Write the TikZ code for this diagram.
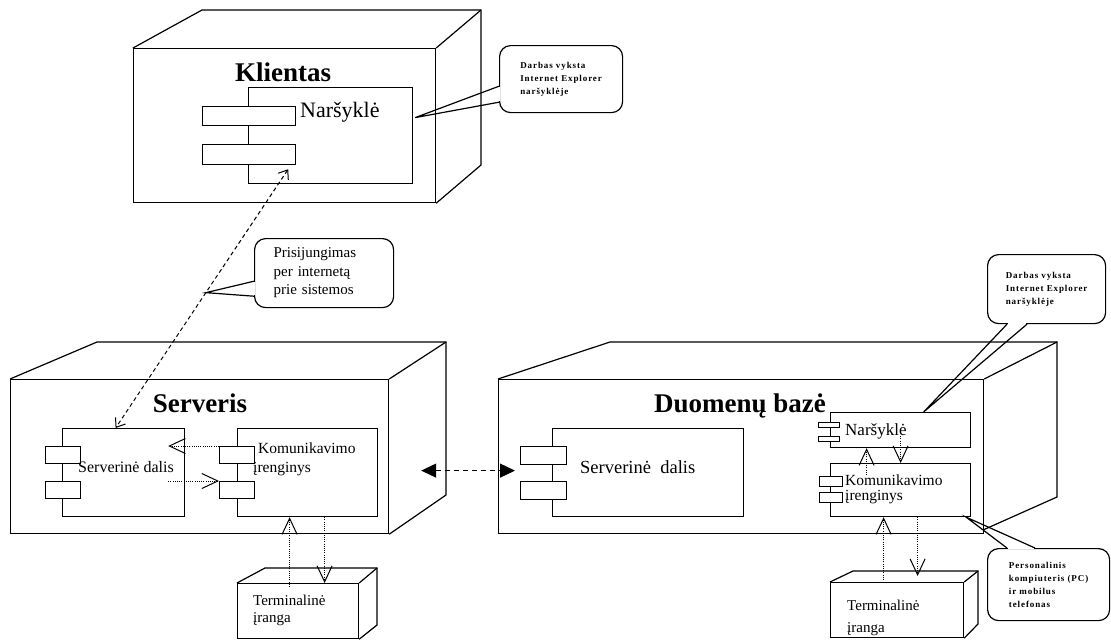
\documentclass[tikz,border=0pt]{standalone}
\usepackage{fontspec}
\setmainfont{Liberation Serif}
\newfontfamily\notefont[LetterSpace=10]{Liberation Serif}
\usetikzlibrary{arrows.meta,calc}

\tikzset{
  nodebox/.style={draw, line width=1.2pt, fill=white, inner sep=0pt, anchor=north west},
  face/.style={line width=1.2pt, line join=miter},
  title/.style={font=\fontsize{27}{30}\selectfont\bfseries, anchor=base, inner sep=0pt},
  lbl/.style={font=\fontsize{15.5}{18}\selectfont, anchor=base west, inner sep=0pt},
  note/.style={draw, line width=1.2pt, fill=white, rounded corners=11pt, inner sep=0pt,
    anchor=north west, align=left},
  tiny/.style={font=\notefont\bfseries\fontsize{9}{13}\selectfont},
  ptr/.style={line width=1.2pt, line join=miter},
  netlink/.style={line width=1pt, dash pattern=on 4pt off 3pt,
    {Straight Barb[length=8pt,width=12pt]}-{Straight Barb[length=8pt,width=12pt]}},
  flow/.style={line width=0.9pt, dash pattern=on 1pt off 1.2pt,
    -{Straight Barb[length=16pt,width=15pt,line width=1pt]}},
  dblink/.style={line width=1.2pt, dash pattern=on 5pt off 4pt,
    {Triangle[length=15pt,width=14pt]}-{Triangle[length=15pt,width=14pt]}}
}

\begin{document}
\begin{tikzpicture}[x=1pt,y=-1pt]
\useasboundingbox[fill=white] (0,0) rectangle (1111,641);

% ---------- Klientas ----------
\node[nodebox, minimum width=302pt, minimum height=154pt] (kl-box) at (133,48) {};
\draw[face] (kl-box.north west) -- (202,10) -- (481,10) -- (481,165) -- (kl-box.south east);
\draw[face] (481,10) -- (kl-box.north east);
\node[title] (kl-title) at (283,81) {Klientas};
\node[nodebox, minimum width=164pt, minimum height=96pt] (kl-web) at (248,87) {};
\node[nodebox, minimum width=93pt, minimum height=19pt] (kl-port1) at (202,106) {};
\node[nodebox, minimum width=93pt, minimum height=20pt] (kl-port2) at (202,144) {};
\node[lbl, font=\fontsize{22}{26}\selectfont] (kl-web-lbl) at (300,117) {Naršyklė};

% ---------- Serveris ----------
\node[nodebox, minimum width=378pt, minimum height=154pt] (srv-box) at (10,379) {};
\draw[face] (srv-box.north west) -- (97,342) -- (446,342) -- (446,495) -- (srv-box.south east);
\draw[face] (446,342) -- (srv-box.north east);
\node[title] (srv-title) at (200,412) {Serveris};

\node[nodebox, minimum width=122pt, minimum height=88pt] (srv-dalis) at (62,428) {};
\node[nodebox, minimum width=35pt, minimum height=17pt] (srv-dp1) at (45,446) {};
\node[nodebox, minimum width=35pt, minimum height=17pt] (srv-dp2) at (45,481) {};
\node[lbl, font=\fontsize{16}{19}\selectfont] (srv-dalis-lbl) at (78,472) {Serverinė dalis};

\node[nodebox, minimum width=140pt, minimum height=88pt] (srv-kom) at (237,428) {};
\node[nodebox, minimum width=35pt, minimum height=17pt] (srv-kp1) at (219,446) {};
\node[nodebox, minimum width=35pt, minimum height=17pt] (srv-kp2) at (219,481) {};
\node[lbl] (srv-kom-lbl1) at (258,453) {Komunikavimo};
\node[lbl] (srv-kom-lbl2) at (253,472) {įrenginys};

% terminal below the server
\node[nodebox, minimum width=121pt, minimum height=55pt] (srv-term) at (237,583) {};
\draw[face] (srv-term.north west) -- (265,568) -- (377,568) -- (377,625) -- (srv-term.south east);
\draw[face] (377,568) -- (srv-term.north east);
\node[lbl, font=\fontsize{15}{18}\selectfont] (srv-term-lbl1) at (253,605) {Terminalinė};
\node[lbl, font=\fontsize{15}{18}\selectfont] (srv-term-lbl2) at (253,622) {įranga};

% ---------- Duomenų bazė ----------
\node[nodebox, minimum width=485pt, minimum height=154pt] (db-box) at (498,379) {};
\draw[face] (db-box.north west) -- (610,342) -- (1057,342) -- (1057,497) -- (983,530);
\draw[face] (1057,342) -- (db-box.north east);
\node[title] (db-title) at (740,412) {Duomenų bazė};

\node[nodebox, minimum width=191pt, minimum height=88pt] (db-dalis) at (552,428) {};
\node[nodebox, minimum width=46pt, minimum height=18pt] (db-dp1) at (520,446) {};
\node[nodebox, minimum width=46pt, minimum height=18pt] (db-dp2) at (520,481) {};
\node[lbl, font=\fontsize{18.5}{22}\selectfont] (db-dalis-lbl) at (580,473) {Serverinė~~dalis};

\node[nodebox, minimum width=140pt, minimum height=35pt] (db-nars) at (830,412) {};
\node[nodebox, minimum width=21pt, minimum height=5pt] (db-np1) at (818,422) {};
\node[nodebox, minimum width=21pt, minimum height=5pt] (db-np2) at (818,436) {};
\node[lbl, font=\fontsize{17}{20}\selectfont] (db-nars-lbl) at (845,435) {Naršyklė};

\node[nodebox, minimum width=140pt, minimum height=53pt] (db-kom) at (830,463) {};
\node[nodebox, minimum width=23pt, minimum height=10pt] (db-kp1) at (819,476) {};
\node[nodebox, minimum width=23pt, minimum height=10pt] (db-kp2) at (819,492) {};
\node[lbl] (db-kom-lbl1) at (845,485) {Komunikavimo};
\node[lbl] (db-kom-lbl2) at (845,500) {įrenginys};

% terminal below the database
\node[nodebox, minimum width=133pt, minimum height=55pt] (db-term) at (830,582) {};
\draw[face] (db-term.north west) -- (853,571) -- (978,571) -- (978,624) -- (db-term.south east);
\draw[face] (978,571) -- (db-term.north east);
\node[lbl, font=\fontsize{15}{18}\selectfont] (db-term-lbl1) at (847,610) {Terminalinė};
\node[lbl, font=\fontsize{15}{18}\selectfont] (db-term-lbl2) at (847,632) {įranga};

% ---------- connectors ----------
\coordinate (kl-jack) at ($(kl-port2.south east)+(-8,4)$);
\coordinate (srv-jack) at ($(srv-dalis.north)+(-8,0)$);
\draw[netlink] (kl-jack) -- (srv-jack);

\draw[flow] (srv-kp1.north west) -- ($(srv-dalis.east |- srv-kp1.north)+(-17,0)$);
\draw[flow] ($(srv-dalis.east |- srv-kp2.north)+(-17,0)$) -- (srv-kp2.north west);
\draw[flow] ($(srv-term.north)+(-8.5,4)$) -- ($(srv-kom.south)+(-18,0)$);
\draw[flow] ($(srv-kom.south)+(17,0)$) -- ($(srv-term.north)+(26.5,0)$);

\draw[dblink] ($(srv-box.east)+(32,14)$) -- ($(db-box.west)+(17,14)$);

\draw[flow] ($(db-kom.north)+(-34,12)$) -- ($(db-nars.south)+(-34,0)$);
\draw[flow] ($(db-nars.south)+(0,-12)$) -- (db-kom.north);
\draw[flow] ($(db-term.north)+(-13.5,-2)$) -- ($(db-kom.south)+(-17,0)$);
\draw[flow] ($(db-kom.south)+(17,0)$) -- ($(db-term.north)+(20.5,-6)$);

% ---------- notes ----------
\node[note, tiny, minimum width=123pt, minimum height=67pt] (c1) at (499,45)
  {Darbas vyksta\\Internet Explorer\\naršyklėje};
\coordinate (c1-a) at ($(c1.south west)+(0,-27)$);
\coordinate (c1-b) at ($(c1.south west)+(0,-11)$);
\coordinate (c1-tip) at ($(kl-web.east)+(2,-18)$);
\draw[white, line width=2.8pt, shorten <=1pt, shorten >=1pt] (c1-a) -- (c1-b);
\draw[ptr] (c1-a) -- (c1-tip) -- (c1-b);

\node[note, font=\fontsize{15}{18.5}\selectfont, text width=101pt, inner xsep=19pt,
      minimum height=69pt] (c2) at (254,238)
  {Prisijungimas\\per internetą\\prie sistemos};
\coordinate (c2-a) at ($(c2.south west)+(0,-27)$);
\coordinate (c2-b) at ($(c2.south west)+(0,-12)$);
\coordinate (c2-tip) at ($(kl-jack)!0.477!(srv-jack)$);
\draw[white, line width=2.8pt, shorten <=1pt, shorten >=1pt] (c2-a) -- (c2-b);
\draw[ptr] (c2-a) -- (c2-tip) -- (c2-b);

\node[note, tiny, minimum width=118pt, minimum height=69pt] (c3) at (987,254)
  {Darbas vyksta\\Internet Explorer\\naršyklėje};
\coordinate (c3-a) at ($(c3.south west)+(20,0)$);
\coordinate (c3-b) at ($(c3.south west)+(40,0)$);
\coordinate (c3-tip) at ($(db-nars.north)+(23,0)$);
\draw[white, line width=2.8pt, shorten <=1pt, shorten >=1pt] (c3-a) -- (c3-b);
\draw[ptr] (c3-a) -- (c3-tip) -- (c3-b);

\node[note, tiny, minimum width=122pt, minimum height=72pt] (c4) at (987,548)
  {Personalinis\\kompiuteris (PC)\\ir mobilus\\telefonas};
\coordinate (c4-a) at ($(c4.north west)+(20,0)$);
\coordinate (c4-b) at ($(c4.north west)+(48,0)$);
\coordinate (c4-tip) at ($(db-kom.south east)+(-5,0)$);
\draw[white, line width=2.8pt, shorten <=1pt, shorten >=1pt] (c4-a) -- (c4-b);
\draw[ptr] (c4-a) -- (c4-tip) -- (c4-b);
\end{tikzpicture}
\end{document}
